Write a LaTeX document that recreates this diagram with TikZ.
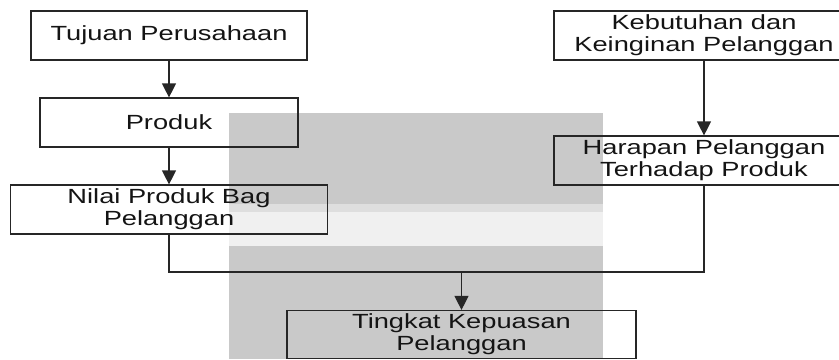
\documentclass[tikz,border=0pt]{standalone}
\usepackage{fontspec}
\setmainfont[FakeStretch=1.33]{Liberation Sans}
\usetikzlibrary{arrows.meta}
\definecolor{linec}{HTML}{262626}
\definecolor{textc}{HTML}{141414}
\definecolor{bggray}{HTML}{C9C9C9}
\definecolor{bglight}{HTML}{F0F0F0}
\definecolor{bgmid}{HTML}{DEDEDE}
\tikzset{
  box/.style={draw=linec, line width=1.2bp, rectangle, inner sep=0pt,
    align=center, text=textc,
    font=\fontsize{20.5bp}{22bp}\selectfont},
  conn/.style={draw=linec, line width=1.2bp},
  arr/.style={conn, -{Triangle[width=14bp,length=14bp]}}
}
\begin{document}
\begin{tikzpicture}[x=1bp,y=-1bp]
\useasboundingbox (0,0) rectangle (839,359);
\clip (0,0) rectangle (839,359);
% background shading
\fill[bggray] (229,113) rectangle (603,204);
\fill[bgmid] (229,204) rectangle (603,212);
\fill[bglight] (229,212) rectangle (603,246);
\fill[bggray] (229,246) rectangle (603,359);
% boxes
\node[box, minimum width=276bp, minimum height=49bp] (tujuan) at (169,35.5) {Tujuan Perusahaan};
\node[box, minimum width=258bp, minimum height=49bp] (produk) at (169,122.5) {Produk};
\node[box, minimum width=317bp, minimum height=49bp] (nilai) at (169,209.5) {Nilai Produk Bag\\Pelanggan};
\node[box, minimum width=300bp, minimum height=49bp] (kebutuhan) at (704,35.5) {Kebutuhan dan\\Keinginan Pelanggan};
\node[box, minimum width=300bp, minimum height=49bp] (harapan) at (704,160.5) {Harapan Pelanggan\\Terhadap Produk};
\node[box, minimum width=349bp, minimum height=48bp] (tingkat) at (461.5,334.5) {Tingkat Kepuasan\\Pelanggan};
% connectors
\coordinate (jl) at (169,272);
\coordinate (jm) at (461.5,272);
\coordinate (jr) at (704,272);
\draw[arr] (tujuan.south) -- (produk.north);
\draw[arr] (produk.south) -- (nilai.north);
\draw[arr] (kebutuhan.south) -- (harapan.north);
\draw[conn] (nilai.south) -- (jl) -- (jr) -- (harapan.south);
\draw[arr] (jm) -- (tingkat.north);
\end{tikzpicture}
\end{document}
